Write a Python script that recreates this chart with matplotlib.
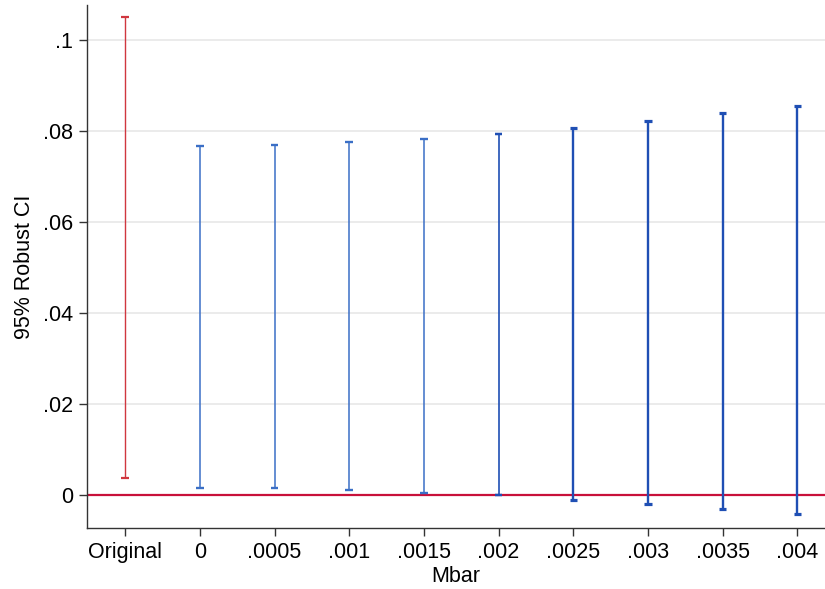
import numpy as np
import matplotlib
matplotlib.use("Agg")
import matplotlib.pyplot as plt

plt.rcParams['font.family'] = ['Liberation Sans', 'DejaVu Sans']

# confidence intervals by Mbar, first one is the original estimate
labels = ['Original', '0', '.0005', '.001', '.0015', '.002', '.0025', '.003', '.0035', '.004']
ci_upper = [0.1051, 0.0767, 0.0770, 0.0775, 0.0783, 0.0793, 0.0807, 0.0822, 0.0839, 0.0855]
ci_lower = [0.0037, 0.0016, 0.0014, 0.0011, 0.0005, -0.0001, -0.0011, -0.0021, -0.0032, -0.0043]

yticks = [0, 0.02, 0.04, 0.06, 0.08, 0.1]
yticklabels = ['0', '.02', '.04', '.06', '.08', '.1']

bar_colors = ['#d0373f'] + ['#3b6fc6'] * 4 + ['#1f4fb4'] * 5
bar_widths = [1.0, 1.1, 1.1, 1.1, 1.1, 1.2, 1.7, 1.7, 1.7, 1.7]

fig = plt.figure(figsize=(8.25, 5.89), dpi=100)
ax = fig.add_axes([0.1055, 0.1036, 0.8945, 0.8879])

x = np.arange(len(labels))
for i in range(len(labels)):
    ax.vlines(x[i], ci_lower[i], ci_upper[i], color=bar_colors[i], lw=bar_widths[i], zorder=3)
    ax.hlines([ci_lower[i], ci_upper[i]], x[i] - 0.05, x[i] + 0.05,
              color=bar_colors[i], lw=bar_widths[i] + 0.6, zorder=3)

ax.axhline(0, color='#c8103a', lw=1.6, zorder=2)

ax.set_xlim(-0.51, 9.37)
ax.set_ylim(-0.0073, 0.1077)
ax.set_xticks(x)
ax.set_xticklabels(labels)
ax.set_yticks(yticks)
ax.set_yticklabels(yticklabels)
ax.yaxis.grid(True, color='#e8e8e8', lw=1.2)
ax.set_axisbelow(True)

for s in ['top', 'right']:
    ax.spines[s].set_visible(False)
for s in ['left', 'bottom']:
    ax.spines[s].set_color('#333333')
    ax.spines[s].set_linewidth(1.0)

ax.tick_params(axis='both', labelsize=15.5, length=6, width=1.0, color='#333333', pad=4)
ax.set_xlabel('Mbar', fontsize=15.5, labelpad=2)
ax.set_ylabel('95% Robust CI', fontsize=15.5, labelpad=6)

fig.savefig('out.png', dpi=100)
